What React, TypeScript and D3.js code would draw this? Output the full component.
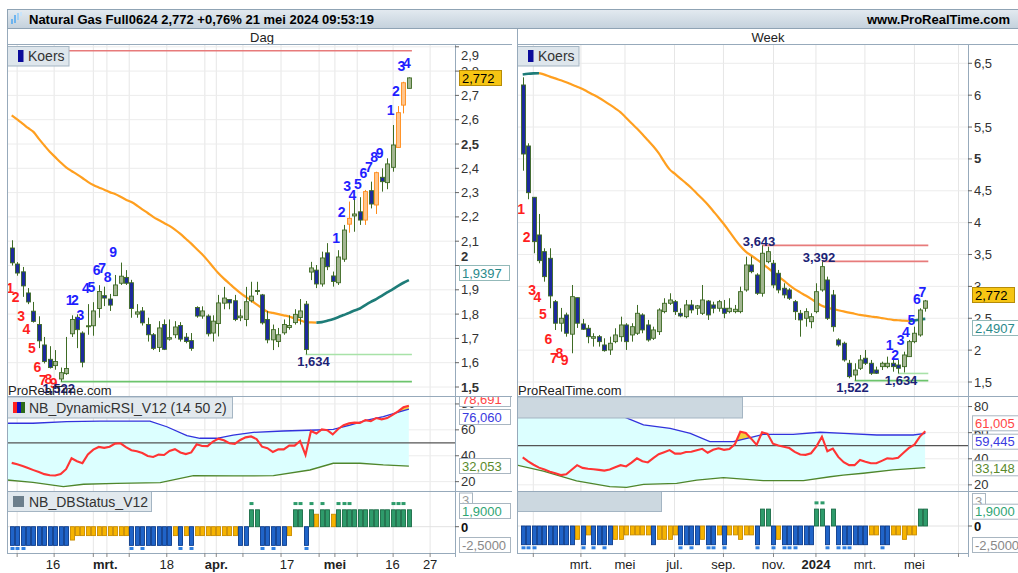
import React from "react";
import * as d3 from "d3";

// ---------- Dag (daily) ----------
const dayOpen = [2.072, 2.006, 1.974, 1.887, 1.812, 1.757, 1.673, 1.614, 1.588, 1.533,
  1.555, 1.719, 1.787, 1.722, 1.748, 1.752, 1.823, 1.876, 1.862, 1.876,
  1.927, 1.951, 1.929, 1.800, 1.813, 1.757, 1.715, 1.663, 1.757, 1.697,
  1.715, 1.753, 1.705, 1.691, 1.827, 1.792, 1.792, 1.722, 1.761, 1.845,
  1.860, 1.855, 1.785, 1.778, 1.855, 1.897, 1.879, 1.778, 1.694, 1.687,
  1.723, 1.745, 1.765, 1.786, 1.841, 1.973, 1.981, 1.924, 2.052, 1.957,
  1.929, 2.026, 2.170, 2.204, 2.221, 2.187, 2.308, 2.249, 2.363, 2.341,
  2.404, 2.486, 2.660, 2.729];
const dayHigh = [2.104, 2.014, 1.994, 1.907, 1.850, 1.791, 1.706, 1.668, 1.652, 1.580,
  1.706, 1.795, 1.799, 1.729, 1.841, 1.849, 1.919, 1.913, 1.883, 1.961,
  2.012, 1.981, 1.941, 1.841, 1.829, 1.785, 1.722, 1.771, 1.778, 1.778,
  1.771, 1.767, 1.722, 1.722, 1.832, 1.832, 1.799, 1.795, 1.879, 1.912,
  1.862, 1.879, 1.820, 1.912, 1.933, 1.933, 1.883, 1.813, 1.757, 1.743,
  1.778, 1.795, 1.820, 1.862, 1.854, 2.015, 2.002, 2.057, 2.092, 1.975,
  2.063, 2.167, 2.263, 2.272, 2.281, 2.311, 2.345, 2.386, 2.400, 2.441,
  2.578, 2.656, 2.756, 2.774];
const dayLow = [2.000, 1.958, 1.871, 1.841, 1.765, 1.660, 1.597, 1.576, 1.571, 1.522,
  1.550, 1.706, 1.660, 1.581, 1.715, 1.711, 1.785, 1.833, 1.813, 1.875,
  1.920, 1.920, 1.785, 1.785, 1.753, 1.687, 1.652, 1.644, 1.652, 1.691,
  1.701, 1.687, 1.680, 1.649, 1.785, 1.781, 1.708, 1.687, 1.708, 1.820,
  1.820, 1.771, 1.771, 1.750, 1.848, 1.879, 1.757, 1.680, 1.652, 1.664,
  1.715, 1.736, 1.757, 1.757, 1.634, 1.940, 1.907, 1.913, 1.981, 1.913,
  1.920, 2.015, 2.135, 2.139, 2.167, 2.167, 2.235, 2.212, 2.304, 2.314,
  2.386, 2.486, 2.626, 2.729];
const dayClose = [2.011, 1.969, 1.916, 1.850, 1.770, 1.690, 1.605, 1.580, 1.605, 1.559,
  1.576, 1.778, 1.736, 1.602, 1.752, 1.813, 1.893, 1.866, 1.837, 1.920,
  1.956, 1.927, 1.823, 1.809, 1.764, 1.715, 1.659, 1.743, 1.655, 1.703,
  1.747, 1.697, 1.687, 1.659, 1.792, 1.813, 1.719, 1.771, 1.846, 1.866,
  1.846, 1.778, 1.792, 1.851, 1.874, 1.893, 1.764, 1.694, 1.736, 1.715,
  1.757, 1.753, 1.799, 1.813, 1.654, 1.990, 1.924, 2.031, 1.995, 1.934,
  2.035, 2.146, 2.194, 2.212, 2.187, 2.304, 2.253, 2.382, 2.345, 2.418,
  2.496, 2.629, 2.752, 2.772];
const dayOrange = [62, 65, 67, 71, 72];
const dayMA = [2.618, 2.601, 2.584, 2.566, 2.550, 2.521, 2.494, 2.468, 2.446, 2.424,
  2.404, 2.389, 2.375, 2.360, 2.344, 2.331, 2.321, 2.312, 2.302, 2.294,
  2.283, 2.271, 2.261, 2.247, 2.231, 2.216, 2.200, 2.187, 2.175, 2.163,
  2.148, 2.130, 2.110, 2.090, 2.068, 2.046, 2.021, 1.994, 1.968, 1.946,
  1.926, 1.906, 1.887, 1.871, 1.856, 1.840, 1.824, 1.810, 1.805, 1.800,
  1.795, 1.790, 1.782, 1.775, 1.767, 1.766, 1.765, 1.767, 1.773, 1.779,
  1.787, 1.796, 1.805, 1.815, 1.823, 1.837, 1.850, 1.862, 1.875, 1.889,
  1.902, 1.916, 1.929, 1.940];
const dayCountDown = [[0, 1, 1.887], [1, 2, 1.850], [2, 3, 1.770], [3, 4, 1.719], [4, 5, 1.639],
  [5, 6, 1.562], [6, 7, 1.508], [7, 8, 1.512], [8, 9, 1.495]];
const dayCountUp = [[11, 1, 1.837], [12, 2, 1.837], [13, 3, 1.774], [14, 4, 1.887], [15, 5, 1.891],
  [16, 6, 1.961], [17, 7, 1.969], [18, 8, 1.932], [19, 9, 2.035],
  [60, 1, 2.094], [61, 2, 2.201], [62, 3, 2.307], [63, 4, 2.270], [64, 5, 2.315],
  [65, 6, 2.361], [66, 7, 2.386], [67, 8, 2.427], [68, 9, 2.441],
  [70, 1, 2.619], [71, 2, 2.699], [72, 3, 2.800], [73, 4, 2.814]];
const dayResist = [[-1, 2.884]];
const daySupport = [[9, 1.522], [54, 1.634]];
const dayRSI = [34.5, 33.4, 32.1, 30.5, 28.9, 27.4, 25.8, 24.9, 24.7, 25.8,
  29.6, 38.1, 35.8, 34.3, 41.0, 44.7, 46.8, 46.1, 47.0, 49.4,
  49.6, 46.7, 44.3, 43.5, 42.1, 39.8, 39.1, 40.9, 40.6, 43.7,
  45.1, 42.5, 41.3, 42.6, 48.8, 47.5, 47.4, 51.0, 53.2, 51.9,
  49.7, 49.1, 52.2, 54.2, 54.9, 52.9, 47.0, 45.9, 42.9, 45.0,
  44.9, 47.8, 47.8, 51.4, 40.6, 59.1, 57.2, 60.3, 59.7, 56.5,
  60.7, 63.6, 65.1, 65.6, 65.4, 67.5, 66.7, 69.1, 68.1, 69.1,
  71.5, 74.3, 77.4, 78.69];
const dayRSIUpper = [[-0.9, 65.1], [3.9, 65.1], [10.1, 66.3], [16.2, 66.8], [25.4, 66.8], [28.5, 62.4],
  [32.2, 55.5], [34.6, 53.5], [37.7, 53.5], [40.7, 56.0], [44.4, 58.1], [49.9, 59.1], [56.1, 59.9],
  [59.1, 60.4], [62.2, 63.7], [65.3, 67.6], [68.3, 70.2], [71.4, 74.0], [73, 76.06]];
const dayRSILower = [[-0.9, 21.3], [3.9, 19.5], [9.5, 16.1], [13.2, 18.0], [19.3, 18.7], [27.3, 19.2],
  [33.4, 24.6], [40.7, 24.4], [48.1, 24.6], [54.8, 29.0], [59.1, 34.2], [64.0, 34.2], [68.3, 32.9],
  [73, 32.05]];
const dayStatus = ("BBBBBBBBBBB" + "o" + "OOOOOOOOOO" + "BBBBBBBB" + "OBOB" + "OOOOOOOO" + "BB" + "GG" +
  "BBBBB" + "O" + "GG" + "B" + "G" + "Y" + "G" + "G" + "Y" + "GGGGGGGGGGGGGG").split("");
const dayMarks = [0, 1, 2, 22, 24, 31, 33, 44, 46, 48, 52, 53, 54, 55, 57, 60, 61, 62, 70, 71, 72];
const dayGrid = [1.0, 7.8, 15.0, 17.5, 21.6, 28.5, 35.5, 37.6, 42.5, 49.5, 56.5, 59.4, 63.5, 70.1, 76.9];
const dayTickLabels = ["16", "mrt.", "18", "apr.", "17", "mei", "16", "27"];
const dayTickPos = [7.6, 17.2, 28.5, 37.6, 50.6, 59.4, 70.0, 76.9];

// ---------- Week ----------
const weekOpen = [6.160, 5.203, 4.398, 3.807, 3.545, 3.441, 2.760, 2.422, 2.552, 2.250,
  2.823, 2.411, 2.343, 2.186, 2.211, 2.081, 2.003, 2.133, 2.211, 2.395,
  2.238, 2.265, 2.552, 2.395, 2.186, 2.290, 2.604, 2.735, 2.760, 2.578,
  2.525, 2.709, 2.657, 2.578, 2.771, 2.709, 2.657, 2.657, 2.604, 2.604,
  2.604, 2.944, 3.336, 3.179, 2.892, 3.388, 3.363, 3.206, 2.971, 2.944,
  2.760, 2.578, 2.500, 2.446, 2.604, 2.944, 3.101, 2.866, 2.160, 2.108,
  1.794, 1.610, 1.715, 1.873, 1.794, 1.688, 1.741, 1.741, 1.794, 1.767,
  1.741, 1.898, 2.133, 2.238, 2.657];
const weekHigh = [6.280, 5.245, 4.400, 4.136, 3.598, 3.598, 2.787, 2.662, 2.588, 3.022,
  2.823, 2.489, 2.395, 2.265, 2.238, 2.186, 2.211, 2.343, 2.525, 2.422,
  2.422, 2.709, 2.578, 2.474, 2.368, 2.657, 2.814, 2.892, 2.787, 2.657,
  2.787, 2.787, 2.709, 3.022, 2.787, 2.760, 2.787, 2.787, 2.814, 2.709,
  2.996, 3.467, 3.467, 3.206, 3.643, 3.623, 3.414, 3.258, 3.049, 2.971,
  2.787, 2.630, 2.657, 2.578, 3.049, 3.392, 3.153, 2.944, 2.186, 2.133,
  1.846, 1.794, 1.924, 2.003, 1.846, 1.741, 1.819, 1.898, 1.873, 1.846,
  1.976, 2.160, 2.368, 2.657, 2.787];
const weekLow = [4.815, 4.367, 3.520, 3.363, 3.074, 2.657, 2.316, 2.290, 2.211, 1.951,
  2.348, 2.316, 2.108, 2.055, 2.055, 1.976, 1.925, 2.108, 2.133, 2.003,
  2.133, 2.238, 2.265, 2.133, 2.160, 2.238, 2.578, 2.709, 2.552, 2.515,
  2.500, 2.578, 2.552, 2.552, 2.474, 2.578, 2.604, 2.500, 2.578, 2.578,
  2.578, 2.917, 3.206, 2.866, 2.839, 3.363, 2.971, 2.892, 2.814, 2.787,
  2.474, 2.211, 2.368, 2.343, 2.578, 2.917, 2.474, 2.290, 2.055, 1.819,
  1.558, 1.522, 1.688, 1.767, 1.611, 1.626, 1.688, 1.715, 1.662, 1.634,
  1.650, 1.898, 2.108, 2.211, 2.604];
const weekClose = [5.077, 4.470, 3.702, 3.404, 3.153, 2.850, 2.422, 2.500, 2.265, 2.839,
  2.422, 2.328, 2.211, 2.211, 2.133, 1.992, 2.108, 2.238, 2.395, 2.133,
  2.368, 2.578, 2.317, 2.160, 2.317, 2.630, 2.735, 2.787, 2.604, 2.536,
  2.709, 2.630, 2.695, 2.787, 2.552, 2.657, 2.760, 2.578, 2.657, 2.641,
  2.917, 3.336, 3.231, 2.892, 3.520, 3.545, 3.022, 2.944, 2.866, 2.814,
  2.604, 2.474, 2.604, 2.525, 2.917, 3.310, 2.500, 2.368, 2.081, 1.846,
  1.584, 1.688, 1.846, 1.794, 1.637, 1.637, 1.794, 1.794, 1.741, 1.715,
  1.924, 2.133, 2.265, 2.630, 2.772];
const weekMA = [6.325, 6.336, 6.342, 6.345, 6.323, 6.291, 6.263, 6.233, 6.204, 6.167,
  6.133, 6.097, 6.051, 6.006, 5.959, 5.907, 5.851, 5.793, 5.731, 5.645,
  5.560, 5.476, 5.386, 5.292, 5.198, 5.090, 4.956, 4.836, 4.764, 4.691,
  4.619, 4.544, 4.458, 4.374, 4.285, 4.183, 4.081, 3.975, 3.858, 3.741,
  3.633, 3.545, 3.485, 3.425, 3.361, 3.294, 3.225, 3.157, 3.090, 3.021,
  2.958, 2.906, 2.856, 2.804, 2.749, 2.696, 2.666, 2.646, 2.626, 2.607,
  2.588, 2.571, 2.552, 2.541, 2.528, 2.517, 2.503, 2.489, 2.475, 2.469,
  2.462, 2.458, 2.465, 2.481, 2.491];
const weekCountDown = [[0, 1, 4.131], [1, 2, 3.702], [2, 3, 2.865], [3, 4, 2.760], [4, 5, 2.489],
  [5, 6, 2.097], [6, 7, 1.794], [7, 8, 1.873], [8, 9, 1.767]];
const weekCountUp = [[68, 1, 2.003], [69, 2, 1.846], [70, 3, 2.081], [71, 4, 2.211], [72, 5, 2.395],
  [73, 6, 2.720], [74, 7, 2.839]];
const weekResist = [[44, 3.643], [55, 3.392]];
const weekSupport = [[61, 1.522], [69, 1.634]];
const weekRSI = [41.0, 38.0, 35.4, 33.2, 31.7, 30.1, 28.8, 27.5, 28.1, 31.6,
  35.1, 33.0, 32.3, 31.9, 31.5, 30.9, 31.7, 33.5, 35.1, 34.1,
  37.0, 40.3, 38.1, 37.2, 40.5, 43.5, 45.0, 46.6, 43.9, 43.9,
  45.2, 45.4, 46.5, 47.6, 44.6, 46.9, 48.0, 46.8, 47.5, 51.1,
  60.7, 59.7, 55.4, 50.6, 60.3, 59.1, 51.5, 50.2, 49.2, 48.2,
  45.3, 43.3, 43.0, 44.2, 49.5, 56.9, 45.7, 47.8, 41.4, 37.4,
  35.1, 35.1, 39.0, 37.7, 36.5, 36.5, 38.4, 40.3, 40.0, 40.8,
  44.6, 48.3, 50.8, 57.0, 61.005];
const weekRSIUpper = [[-0.9, 90], [10, 84], [18.5, 72.2], [22.2, 65.9], [27.1, 63.3], [30.8, 59.5],
  [34.4, 53.1], [38.7, 53.1], [41.8, 56.1], [44.2, 58.7], [49.7, 58.7], [54.7, 60.3], [59, 59.5],
  [65.1, 58.2], [71.8, 58.2], [74, 59.445]];
const weekRSILower = [[-1.1, 35.2], [3.8, 30.6], [9.9, 23.0], [16.0, 18.6], [19.1, 18.1], [22.2, 20.4],
  [28.3, 21.2], [32.0, 23.7], [36.9, 25.5], [44.2, 23.2], [51.6, 23.2], [56.5, 26.2], [58.9, 27.5],
  [62.6, 28.9], [68.1, 31.4], [74, 33.148]];
const weekStatus = ("BBBBBBBBBB" + "o" + "B" + "O" + "BBBB" + "oo" + "OOOOO" + "B" + "ooo" + "O" + "BBBB" +
  "o" + "BB" + "O" + "B" + "OOoOO" + "B" + "GG" + "B" + "o" + "BBBBBB" + "GG" + "B" + "G" + "BBBBBB" +
  "OO" + "BB" + "OOoOO" + "GG").split("");
const weekMarks = [0, 1, 2, 11, 13, 15, 29, 31, 34, 35, 37, 43, 46, 48, 49, 50, 54, 55, 56, 58, 59, 60, 66];
const weekGrid = [1.95, 10.7, 18.8, 27.9, 36.9, 46.1, 53.9, 62.9, 72.0, 80.1];
const weekTickLabels = ["mrt.", "mei", "jul.", "sep.", "nov.", "2024", "mrt.", "mei"];
const weekTickPos = [10.7, 18.8, 27.9, 36.9, 46.1, 53.9, 62.9, 72.0];

const statusLevel: any = { B: -2.1, O: -1.0, o: -1.5, G: 1.9, Y: 1.4 };

const FONT = "'Liberation Sans', Arial, Helvetica, sans-serif";
const comma = (v: number, d: number) => v.toFixed(d).replace(".", ",");
const EDGE = "#97aabb";

function VBox({ x, y, w, text, color, fill = "#fff", stroke = "#a9b6c1" }: any) {
  return (
    <g>
      <rect x={x + 0.5} y={y - 7.5} width={w} height={15} fill={fill} stroke={stroke} />
      <text x={x + 3} y={y + 4.6} fontSize={13} fill={color}>{text}</text>
    </g>
  );
}

function Side({ c }: any) {
  const { id, x0, x1, xs, ys, rsiY, dbY } = c;
  const top = 45, mBot = 396, rBot = 491, dBot = 553;
  const n = c.open.length;
  const ids = d3.range(n);

  // moving average split into falling (orange) / rising (teal) runs
  const runs: any[] = [];
  let cur = { up: c.ma[1] > c.ma[0], pts: [0] };
  for (let i = 1; i < n; i++) {
    const up = c.ma[i] > c.ma[i - 1];
    if (up !== cur.up) { runs.push(cur); cur = { up, pts: [i - 1] }; }
    cur.pts.push(i);
  }
  runs.push(cur);
  const maLine = d3.line<number>().x(i => xs(i)).y(i => ys(c.ma[i])).curve(d3.curveMonotoneX);

  const kLine = d3.line<any>().x(d => xs(d[0])).y(d => rsiY(d[1]));
  const kBelow = d3.area<any>().x(d => xs(d[0])).y0(d => rsiY(d[1])).y1(rBot + 5);
  const kAbove = d3.area<any>().x(d => xs(d[0])).y0(mBot - 5).y1(d => rsiY(d[1]));
  const rsiLine = d3.line<number>().x(i => xs(i)).y(i => rsiY(c.rsi[i]));
  const rsiBelow = d3.area<number>().x(i => xs(i)).y0(i => rsiY(c.rsi[i])).y1(rBot + 5);

  const xEnd = xs(n - 1) + 3;

  return (
    <g>
      <defs>
        <clipPath id={`${id}-m`}><rect x={x0} y={top} width={x1 - x0} height={mBot - top} /></clipPath>
        <clipPath id={`${id}-r`}><rect x={x0} y={mBot} width={x1 - x0} height={rBot - mBot} /></clipPath>
        <clipPath id={`${id}-ra`}><rect x={x1} y={mBot + 1} width={70} height={rBot - mBot - 1} /></clipPath>
        <clipPath id={`${id}-bu`}><path d={kBelow(c.upper) || ""} /></clipPath>
        <clipPath id={`${id}-au`}><path d={kAbove(c.upper) || ""} /></clipPath>
      </defs>

      {/* grid */}
      {c.grid.map((g: number, k: number) => (
        <line key={k} x1={xs(g)} x2={xs(g)} y1={top} y2={dBot} stroke="#e6e6e6" strokeWidth={1} />
      ))}
      {c.yTicks.map((v: number, k: number) => (
        <line key={k} x1={x0} x2={x1} y1={ys(v)} y2={ys(v)} stroke="#ececec" />
      ))}
      {[20, 40, 60, 80].map(v => (
        <line key={v} x1={x0} x2={x1} y1={rsiY(v)} y2={rsiY(v)} stroke="#ececec" />
      ))}
      <line x1={x0} x2={x1} y1={dbY(0)} y2={dbY(0)} stroke="#e2e2e2" />

      {/* main price panel */}
      <g clipPath={`url(#${id}-m)`}>
        {c.resist.map((r: number[], k: number) => (
          <line key={k} x1={xs(r[0])} x2={xEnd} y1={ys(r[1])} y2={ys(r[1])} stroke="#e77b7b" strokeWidth={1.6} />
        ))}
        {c.support.map((s: number[], k: number) => (
          <line key={k} x1={xs(s[0])} x2={xEnd} y1={ys(s[1])} y2={ys(s[1])}
            stroke={k === 0 ? "#6cc46c" : "#a8e2a8"} strokeWidth={1.6} />
        ))}
        {runs.map((r, k) => (
          <path key={k} d={maLine(r.pts) || ""} fill="none"
            stroke={r.up ? "#1e7c78" : "#ff9f1f"} strokeWidth={r.up ? 2.6 : 2.2} />
        ))}
        {ids.map(i => {
          const o = c.open[i], cl = c.close[i];
          const isOr = c.orange.includes(i);
          const up = cl >= o;
          const fill = isOr ? "#ffc58c" : up ? "#a3b692" : "#1c2a9c";
          const stroke = isOr ? "#ff8c1a" : "#3e6b24";
          const x = Math.round(xs(i)) + 0.5;
          const yt = ys(Math.max(o, cl)), yb = ys(Math.min(o, cl));
          return (
            <g key={i}>
              <line x1={x} x2={x} y1={ys(c.high[i])} y2={ys(c.low[i])} stroke={stroke} strokeWidth={1} />
              <rect x={x - 2} y={yt} width={4} height={Math.max(1, yb - yt)} fill={fill} stroke={stroke} strokeWidth={0.9} />
            </g>
          );
        })}
        {c.countDown.map((d: number[], k: number) => (
          <text key={k} x={xs(d[0]) - 1.5} y={ys(d[2])} textAnchor="middle" fontSize={14}
            fontWeight="bold" fill="#ff1f1f">{d[1]}</text>
        ))}
        {c.countUp.map((d: number[], k: number) => (
          <text key={k} x={xs(d[0]) - c.upDx} y={ys(d[2])} textAnchor="middle" fontSize={14}
            fontWeight="bold" fill="#1f1fff">{d[1]}</text>
        ))}
        {c.resist.filter((r: number[]) => r[0] >= 0).map((r: number[], k: number) => (
          <text key={k} x={xs(r[0]) - 3} y={ys(r[1]) + 0.5} textAnchor="middle" fontSize={13}
            fontWeight="bold" fill="#1c2376">{comma(r[1], 3)}</text>
        ))}
        {c.support.map((s: number[], k: number) => (
          <text key={k} x={xs(s[0]) + c.supDx[k]} y={ys(s[1]) + 11.5} textAnchor="middle" fontSize={13}
            fontWeight="bold" fill="#1c2376">{comma(s[1], 3)}</text>
        ))}
        <text x={x0 + 1} y={395} fontSize={13} fill="#222">ProRealTime.com</text>
      </g>
      <rect x={x0 + 0.5} y={46.5} width={61.5} height={19.5} fill="#dee6ec" stroke="#a4b5c3" />
      <rect x={x0 + 11} y={50} width={5.5} height={12} fill="#0b0b9a" />
      <text x={x0 + 21} y={61} fontSize={14} fill="#333">Koers</text>

      {/* RSI panel */}
      <g clipPath={`url(#${id}-r)`}>
        <path d={kAbove(c.lower) || ""} fill="#dcffff" clipPath={`url(#${id}-bu)`} />
        <path d={rsiBelow(ids) || ""} fill="#f2cf3c" clipPath={`url(#${id}-au)`} />
        <line x1={x0} x2={x1} y1={rsiY(50)} y2={rsiY(50)} stroke="#555" strokeWidth={1.3} />
        <path d={kLine(c.upper) || ""} fill="none" stroke="#3232dc" strokeWidth={1.3} />
        <path d={kLine(c.lower) || ""} fill="none" stroke="#4f862c" strokeWidth={1.3} />
        <path d={rsiLine(ids) || ""} fill="none" stroke="#ff3434" strokeWidth={2.1} />
      </g>
      <rect x={x0 + 0.5} y={397} width={c.rsiLegendW} height={21} fill={c.legendText ? "#e2e9ee" : "#ccd8e0"} stroke="#a4b5c3" />
      {c.legendText && (
        <g>
          <rect x={x0 + 6} y={402} width={4} height={11} fill="#ff2020" />
          <rect x={x0 + 10} y={402} width={4} height={11} fill="#1010c0" />
          <rect x={x0 + 14} y={402} width={4} height={11} fill="#2c6a1a" />
          <text x={x0 + 22} y={412.5} fontSize={14} fill="#333">NB_DynamicRSI_V12 (14 50 2)</text>
        </g>
      )}

      {/* DB status panel */}
      {ids.map(i => {
        const s = c.status[i];
        const v = statusLevel[s];
        const fill = s === "B" ? "#2064c8" : s === "G" ? "#2e9b6b" : "#f6b400";
        const stroke = s === "B" ? "#0d3c8c" : s === "G" ? "#1b6c47" : "#c98c00";
        const x = Math.round(xs(i)) + 0.5;
        const y1 = dbY(Math.max(0, v)), y2 = dbY(Math.min(0, v));
        return <rect key={i} x={x - 2} y={y1} width={4} height={y2 - y1} fill={fill} stroke={stroke} strokeWidth={0.9} />;
      })}
      {c.marks.map((i: number) => {
        const up = statusLevel[c.status[i]] > 0;
        const x = Math.round(xs(i)) + 0.5;
        return <rect key={i} x={x - 2} y={dbY(up ? 2.6 : -2.45) - 1.5} width={4} height={3}
          fill={up ? "#2e9b6b" : "#2f80e2"} />;
      })}
      <rect x={x0 + 0.5} y={491.5} width={144} height={20} fill={c.legendText ? "#e2e9ee" : "#ccd8e0"} stroke="#a4b5c3" />
      {c.legendText && (
        <g>
          <rect x={x0 + 6} y={496} width={11} height={11} fill="#6d7f8c" />
          <text x={x0 + 22} y={506.5} fontSize={14} fill="#333">NB_DBStatus_V12</text>
        </g>
      )}

      {/* frame lines */}
      <line x1={x0 + 0.5} x2={x0 + 0.5} y1={29} y2={dBot} stroke={EDGE} />
      <line x1={x1 + 0.5} x2={x1 + 0.5} y1={top} y2={dBot + 4} stroke={EDGE} />
      <line x1={x0} x2={c.right} y1={44.5} y2={44.5} stroke={EDGE} />
      <line x1={x0} x2={c.right} y1={mBot + 0.5} y2={mBot + 0.5} stroke={EDGE} />
      <line x1={x0} x2={c.right} y1={rBot + 0.5} y2={rBot + 0.5} stroke={EDGE} />
      <line x1={x0} x2={x1} y1={dBot + 0.5} y2={dBot + 0.5} stroke={EDGE} />

      {/* price axis */}
      {c.yTicks.map((v: number, k: number) => {
        const y = Math.max(ys(v), 55) + (c.tickShift[String(v)] || 0);
        return (
          <g key={k}>
            <line x1={x1} x2={x1 + 4} y1={ys(v)} y2={ys(v)} stroke="#666" />
            <text x={x1 + 6} y={y + 4.5} fontSize={13} fill="#333"
              fontWeight={c.boldTicks.includes(v) ? "bold" : "normal"}>
              {Number.isInteger(v) ? String(v) : comma(v, 1)}
            </text>
          </g>
        );
      })}
      {c.mainBoxes.map((b: any, k: number) => (
        <VBox key={k} x={x1 + 4} y={b.y} w={b.w} text={b.text} color={b.color} fill={b.fill} stroke={b.stroke} />
      ))}

      {/* RSI axis */}
      <g clipPath={`url(#${id}-ra)`}>
        {[20, 40, 60, 80].map(v => (
          <g key={v}>
            <line x1={x1} x2={x1 + 4} y1={rsiY(v)} y2={rsiY(v)} stroke="#666" />
            <text x={x1 + 6} y={rsiY(v) + 4.5} fontSize={13} fill="#333">{v}</text>
          </g>
        ))}
        {c.rsiBoxes.map((b: any, k: number) => (
          <VBox key={k} x={x1 + 4} y={b.y} w={b.w} text={b.text} color={b.color} />
        ))}
      </g>

      {/* DB axis */}
      <line x1={x1} x2={x1 + 4} y1={dbY(0)} y2={dbY(0)} stroke="#666" />
      <text x={x1 + 6} y={dbY(0) + 5} fontSize={13} fontWeight="bold" fill="#111">0</text>
      {c.dbBoxes.map((b: any, k: number) => (
        <VBox key={k} x={x1 + 4} y={b.y} w={b.w} text={b.text} color={b.color} />
      ))}

      {/* date axis */}
      {c.grid.map((g: number, k: number) => (
        <line key={k} x1={xs(g)} x2={xs(g)} y1={dBot} y2={dBot + 4} stroke="#888" />
      ))}
      {c.tickLabels.map((t: string, k: number) => (
        <text key={k} x={xs(c.tickPos[k])} y={569} textAnchor="middle" fontSize={13} fill="#222"
          fontWeight={c.major.includes(t) ? "bold" : "normal"}>{t}</text>
      ))}
    </g>
  );
}

export default function App() {
  const left = {
    id: "dag", x0: 7, x1: 455, right: 512,
    xs: d3.scaleLinear().domain([0, 73]).range([11.7, 408.9]),
    ys: d3.scaleLinear().domain([1.5, 2.5]).range([387, 144]),
    rsiY: d3.scaleLinear().domain([20, 80]).range([481.65, 403.95]),
    dbY: d3.scaleLinear().domain([0, 3]).range([526.7, 500]),
    open: dayOpen, high: dayHigh, low: dayLow, close: dayClose, orange: dayOrange, ma: dayMA,
    countDown: dayCountDown, countUp: dayCountUp, upDx: 2,
    resist: dayResist, support: daySupport, supDx: [-2, 8],
    rsi: dayRSI, upper: dayRSIUpper, lower: dayRSILower,
    status: dayStatus, marks: dayMarks,
    grid: dayGrid, tickLabels: dayTickLabels, tickPos: dayTickPos, major: ["mrt.", "apr.", "mei"],
    yTicks: d3.range(15, 30).map(v => v / 10), boldTicks: [1.5, 2, 2.5], tickShift: { "2": -9 },
    legendText: true, rsiLegendW: 225,
    mainBoxes: [
      { y: 78, text: "2,772", w: 42, color: "#000", fill: "#f6c514", stroke: "#b68c08" },
      { y: 273, text: "1,9397", w: 50, color: "#2a8a8a", fill: "#fff", stroke: "#93b9b9" },
    ],
    rsiBoxes: [
      { y: 399, text: "78,691", w: 51, color: "#ff4646" },
      { y: 417, text: "76,060", w: 51, color: "#3a3ae0" },
      { y: 466, text: "32,053", w: 51, color: "#5a8a2c" },
    ],
    dbBoxes: [
      { y: 500.5, text: "3", w: 13, color: "#999" },
      { y: 511, text: "1,9000", w: 51, color: "#2fa574" },
      { y: 545, text: "-2,5000", w: 51, color: "#888" },
    ],
  };
  const right = {
    id: "week", x0: 517, x1: 968, right: 1018,
    xs: d3.scaleLinear().domain([0, 74]).range([522.7, 925.3]),
    ys: d3.scaleLinear().domain([1.5, 6.5]).range([382, 63.3]),
    rsiY: d3.scaleLinear().domain([20, 80]).range([484.85, 406.55]),
    dbY: d3.scaleLinear().domain([0, 3]).range([526, 499.3]),
    open: weekOpen, high: weekHigh, low: weekLow, close: weekClose, orange: [], ma: weekMA,
    countDown: weekCountDown, countUp: weekCountUp, upDx: 3,
    resist: weekResist, support: weekSupport, supDx: [-2, 3],
    rsi: weekRSI, upper: weekRSIUpper, lower: weekRSILower,
    status: weekStatus, marks: weekMarks,
    grid: weekGrid, tickLabels: weekTickLabels, tickPos: weekTickPos, major: ["2024"],
    yTicks: d3.range(3, 14).map(v => v / 2), boldTicks: [5], tickShift: {},
    legendText: false, rsiLegendW: 225,
    mainBoxes: [
      { y: 295, text: "2,772", w: 42, color: "#000", fill: "#f6c514", stroke: "#b68c08" },
      { y: 328, text: "2,4907", w: 50, color: "#2a8a8a", fill: "#fff", stroke: "#93b9b9" },
    ],
    rsiBoxes: [
      { y: 423.3, text: "61,005", w: 51, color: "#ff4646" },
      { y: 441.7, text: "59,445", w: 51, color: "#3a3ae0" },
      { y: 468.3, text: "33,148", w: 51, color: "#5a8a2c" },
    ],
    dbBoxes: [
      { y: 501, text: "3", w: 13, color: "#999" },
      { y: 511.7, text: "1,9000", w: 51, color: "#2fa574" },
      { y: 545, text: "-2,5000", w: 51, color: "#888" },
    ],
  };

  return (
    <div style={{ position: "absolute", left: 0, top: 0, width: 1018, height: 573, background: "#fff" }}>
      <svg width={1018} height={573} style={{ display: "block", fontFamily: FONT }}>
        <defs>
          <linearGradient id="hdr" x1="0" x2="0" y1="0" y2="1">
            <stop offset="0" stopColor="#e3eaf0" />
            <stop offset="1" stopColor="#c4d1dc" />
          </linearGradient>
        </defs>
        <rect width={1018} height={573} fill="#fff" />
        <rect x={7.5} y={9.5} width={1012} height={19} fill="url(#hdr)" stroke="#8fa3b4" />
        <rect x={11} y={19} width={2} height={5} fill="#6eb4ee" />
        <rect x={14} y={15} width={2} height={8} fill="#6eb4ee" />
        <rect x={17} y={13} width={2} height={7} fill="#9fd0f6" />
        <rect x={20} y={12} width={2} height={4} fill="#c9e4fa" />
        <text x={29} y={24} fontSize={13} fontWeight="bold" fill="#000">
          Natural Gas Full0624 2,772 +0,76% 21 mei 2024 09:53:19
        </text>
        <text x={1010} y={24} fontSize={13} fontWeight="bold" textAnchor="end" fill="#000">www.ProRealTime.com</text>
        <text x={262} y={42} fontSize={13} textAnchor="middle" fill="#222">Dag</text>
        <text x={768} y={42} fontSize={13} textAnchor="middle" fill="#222">Week</text>
        <Side c={left} />
        <Side c={right} />
      </svg>
    </div>
  );
}
